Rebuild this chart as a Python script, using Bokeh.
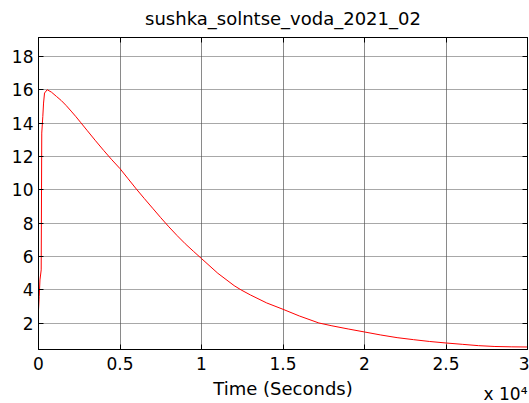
from bokeh.plotting import figure
from bokeh.models import Range1d, FixedTicker, LinearAxis, Title, ColumnDataSource
from bokeh.embed import file_html
from bokeh.resources import INLINE

# Scope trace: moisture signal over a drying run
title_text = "sushka_solntse_voda_2021_02"
x_label_text = "Time (Seconds)"
x_scale_text = "x 10\u2074"

time_s = [0, 45, 90, 165, 200, 265, 310, 370, 535, 800,
          1100, 1400, 1700, 2000, 2300, 2600, 3000, 3500, 4000, 4500,
          5000, 5500, 6000, 6500, 7000, 7500, 8000, 8500, 9000, 9500,
          10000, 11000, 12000, 12430, 13000, 14000, 15000, 16000, 17200, 18000,
          19000, 20000, 21000, 22000, 23000, 24000, 25000, 26000, 27000, 28000,
          29000, 30000]
signal = [2.8, 3.6, 4.6, 5.2, 13.4, 14.4, 15.2, 15.8, 16.0, 15.85,
          15.6, 15.35, 15.05, 14.72, 14.38, 14.02, 13.54, 12.94, 12.36, 11.8,
          11.27, 10.66, 10.05, 9.47, 8.9, 8.33, 7.78, 7.26, 6.77, 6.32,
          5.88, 5.0, 4.26, 4.0, 3.7, 3.22, 2.84, 2.44, 2.02, 1.85,
          1.66, 1.48, 1.3, 1.14, 1.02, 0.91, 0.82, 0.74, 0.66, 0.61,
          0.59, 0.58]

x_ticks = [0, 5000, 10000, 15000, 20000, 25000, 30000]
x_tick_labels = ["0", "0.5", "1", "1.5", "2", "2.5", "3"]
y_ticks = [2, 4, 6, 8, 10, 12, 14, 16, 18]

FONT = "DejaVu Sans"

src = ColumnDataSource(data=dict(t=time_s, v=signal))

p = figure(width=529, height=403, output_backend="svg", toolbar_location=None,
           x_range=Range1d(0, 30000), y_range=Range1d(0.43, 19.13),
           min_border_left=38, min_border_right=2, min_border_top=37, min_border_bottom=54,
           title=title_text)

p.background_fill_color = "white"
p.border_fill_color = "white"
p.outline_line_color = "black"
p.outline_line_width = 1

p.title.text_font = FONT
p.title.text_font_size = "18px"
p.title.text_font_style = "normal"
p.title.text_color = "black"
p.title.align = "center"
p.title.vertical_align = "top"
p.title.standoff = 13

bottom = p.below[0]
left = p.left[0]

bottom.ticker = FixedTicker(ticks=x_ticks)
bottom.major_label_overrides = {t: s for t, s in zip(x_ticks, x_tick_labels)}
left.ticker = FixedTicker(ticks=y_ticks)

for ax in (bottom, left):
    ax.major_tick_in = 5
    ax.major_tick_out = 0
    ax.major_tick_line_color = "black"
    ax.minor_tick_line_color = None
    ax.axis_line_color = "black"
    ax.major_label_text_font = FONT
    ax.major_label_text_font_size = "17px"
    ax.major_label_text_color = "black"

bottom.major_label_standoff = 7
left.major_label_standoff = 5

bottom.axis_label = x_label_text
bottom.axis_label_text_font = FONT
bottom.axis_label_text_font_size = "18px"
bottom.axis_label_text_font_style = "normal"
bottom.axis_label_text_color = "black"
bottom.axis_label_standoff = 5

# tick marks on the top and right edges of the box
top = LinearAxis(ticker=FixedTicker(ticks=x_ticks))
right = LinearAxis(ticker=FixedTicker(ticks=y_ticks))
for ax in (top, right):
    ax.major_tick_in = 5
    ax.major_tick_out = 0
    ax.major_tick_line_color = "black"
    ax.minor_tick_line_color = None
    ax.axis_line_color = "black"
    ax.major_label_text_font_size = "0px"
    ax.major_label_text_color = None
    ax.major_label_standoff = 0
p.add_layout(top, "above")
p.add_layout(right, "right")

# axis multiplier under the right end of the time axis
scale_note = Title(text=x_scale_text, align="right", vertical_align="top",
                   standoff=-35, offset=0, text_font=FONT, text_font_size="17px",
                   text_font_style="normal", text_color="black")
p.add_layout(scale_note, "below")

p.xgrid.grid_line_color = "#8a8a8a"
p.xgrid.grid_line_width = 1
p.ygrid.grid_line_color = "#505050"
p.ygrid.grid_line_dash = "1 1"
p.ygrid.grid_line_width = 1

p.line("t", "v", source=src, line_color="#ff0000", line_width=1)

open("out.html", "w").write(file_html(p, INLINE))
